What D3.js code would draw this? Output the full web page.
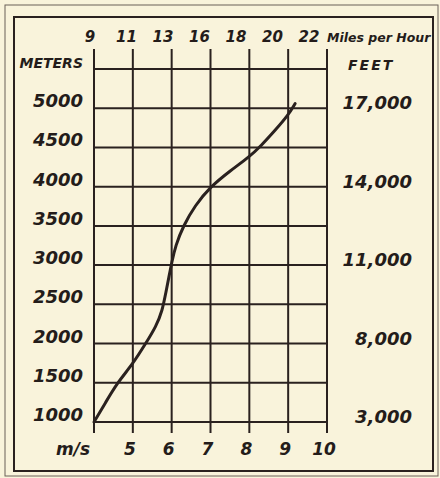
<!DOCTYPE html>
<html>
<head>
<meta charset="utf-8">
<script src="https://cdn.jsdelivr.net/npm/d3@7.9.0/dist/d3.min.js"></script>
<style>
  html, body { margin: 0; padding: 0; background: #f9f3db; }
  svg { display: block; }
  text { font-family: "DejaVu Sans", sans-serif; font-weight: bold; font-style: italic; fill: #241c1a; }
</style>
</head>
<body>
<div id="chart"></div>
<script>
/* ---------------- DATA ---------------- */

// speed (m/s) and height (meters)
const speeds  = [4.0, 4.3, 4.6, 5.0, 5.33, 5.6, 5.76, 5.85, 5.93, 6.0, 6.1, 6.3, 6.6, 7.0, 7.5, 8.0, 8.3, 8.65, 9.0, 9.18];
const heights = [1000, 1250, 1500, 1740, 2000, 2220, 2420, 2650, 2850, 3030, 3250, 3500, 3760, 4000, 4200, 4380, 4520, 4710, 4910, 5060];

const msTicks = [4, 5, 6, 7, 8, 9, 10];
const msLabels = ["m/s", "5", "6", "7", "8", "9", "10"];
const mphLabels = ["9", "11", "13", "16", "18", "20", "22"];

const meterTicks = [5500, 5000, 4500, 4000, 3500, 3000, 2500, 2000, 1500, 1000];
const meterLabels = ["METERS", "5000", "4500", "4000", "3500", "3000", "2500", "2000", "1500", "1000"];

const feetTicks = [5000, 4000, 3000, 2000, 1000];
const feetLabels = ["17,000", "14,000", "11,000", "8,000", "3,000"];

/* ---------------- CHART ---------------- */

const width = 440;
const height = 478;
const ink = "#2a211f";

const svg = d3.select("#chart").append("svg")
  .attr("width", width)
  .attr("height", height);

// frame: thin outer line, heavier inner line
svg.append("rect")
  .attr("x", 5).attr("y", 5).attr("width", 433).attr("height", 471)
  .attr("fill", "none").attr("stroke", "#6b6058").attr("stroke-width", 1);
svg.append("rect")
  .attr("x", 14).attr("y", 17).attr("width", 419).attr("height", 454)
  .attr("fill", "none").attr("stroke", ink).attr("stroke-width", 2);

const x = d3.scaleLinear().domain([4, 10]).range([94, 327]);
const y = d3.scaleLinear().domain([1000, 5500]).range([422, 69]);

// vertical grid lines, sticking out past the top and bottom
svg.append("g")
  .selectAll("line")
  .data(msTicks)
  .join("line")
  .attr("x1", d => x(d)).attr("x2", d => x(d))
  .attr("y1", y(5500) - 20).attr("y2", y(1000) + 11)
  .attr("stroke", ink).attr("stroke-width", 2);

// horizontal grid lines
svg.append("g")
  .selectAll("line")
  .data(meterTicks)
  .join("line")
  .attr("x1", x(4) - 1).attr("x2", x(10) + 1)
  .attr("y1", d => y(d)).attr("y2", d => y(d))
  .attr("stroke", ink).attr("stroke-width", 2);

// left labels (meters)
svg.append("g")
  .selectAll("text")
  .data(meterTicks)
  .join("text")
  .attr("x", 83)
  .attr("y", d => y(d) - 1)
  .attr("text-anchor", "end")
  .style("font-size", (d, i) => i === 0 ? "14px" : "18px")
  .text((d, i) => meterLabels[i]);

// right labels (feet)
svg.append("g")
  .selectAll("text")
  .data(feetTicks)
  .join("text")
  .attr("x", 412)
  .attr("y", d => y(d) + 1)
  .attr("text-anchor", "end")
  .style("font-size", "18px")
  .text((d, i) => feetLabels[i]);

svg.append("text")
  .attr("x", 348).attr("y", y(5500) + 1)
  .style("font-size", "14px")
  .style("letter-spacing", "2px")
  .text("FEET");

// bottom labels (m/s)
svg.append("g")
  .selectAll("text")
  .data(msTicks)
  .join("text")
  .attr("x", (d, i) => i === 0 ? x(d) - 4 : x(d) - 3)
  .attr("y", 455)
  .attr("text-anchor", (d, i) => i === 0 ? "end" : "middle")
  .style("font-size", "17px")
  .text((d, i) => msLabels[i]);

// top labels (miles per hour), spaced a little tighter than the grid
const mph = d3.scalePoint().domain(mphLabels).range([x(4) - 4, x(10) - 18]);

svg.append("g")
  .selectAll("text")
  .data(mphLabels)
  .join("text")
  .attr("x", d => mph(d))
  .attr("y", 42)
  .attr("text-anchor", "middle")
  .style("font-size", "15px")
  .text(d => d);

svg.append("text")
  .attr("x", 327).attr("y", 42)
  .style("font-size", "12.5px")
  .text("Miles per Hour");

// the curve
const points = speeds.map((s, i) => [s, heights[i]]);

svg.append("path")
  .datum(points)
  .attr("fill", "none")
  .attr("stroke", ink)
  .attr("stroke-width", 3)
  .attr("stroke-linecap", "round")
  .attr("d", d3.line()
    .x(d => x(d[0]))
    .y(d => y(d[1]))
    .curve(d3.curveBasis));
</script>
</body>
</html>
